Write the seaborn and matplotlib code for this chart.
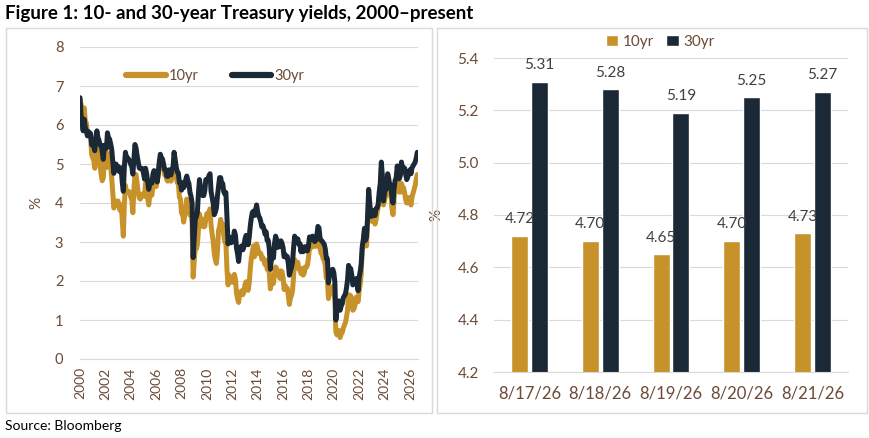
import numpy as np
import pandas as pd
import seaborn as sns
import matplotlib.pyplot as plt
from matplotlib.patches import Rectangle

# monthly 10yr yields, Jan 2000 - Aug 2026
ten_yr = [
    6.66, 6.52, 6.26, 5.99, 6.44, 6.10, 6.05, 5.83, 5.80, 5.74, 5.72, 5.24,
    5.16, 5.10, 4.89, 5.14, 5.39, 5.28, 5.24, 4.97, 4.73, 4.57, 4.65, 5.09,
    5.04, 4.91, 5.28, 5.21, 5.16, 4.93, 4.65, 4.26, 3.87, 3.94, 4.05, 4.03,
    4.05, 3.90, 3.81, 3.96, 3.57, 3.15, 3.98, 4.45, 4.27, 4.29, 4.30, 4.27,
    4.15, 4.08, 3.75, 4.35, 4.72, 4.73, 4.50, 4.28, 4.13, 4.10, 4.19, 4.23,
    4.22, 4.17, 4.50, 4.34, 4.14, 3.95, 4.18, 4.26, 4.20, 4.46, 4.54, 4.47,
    4.42, 4.57, 4.72, 4.99, 5.11, 5.15, 5.09, 4.88, 4.72, 4.73, 4.60, 4.56,
    4.76, 4.72, 4.56, 4.69, 4.75, 5.10, 5.00, 4.67, 4.52, 4.53, 4.15, 4.10,
    3.74, 3.74, 3.51, 3.68, 3.88, 4.10, 4.01, 3.89, 3.69, 3.81, 3.53, 2.10,
    2.52, 2.87, 2.82, 2.93, 3.29, 3.72, 3.56, 3.59, 3.40, 3.39, 3.40, 3.59,
    3.73, 3.69, 3.73, 3.85, 3.42, 3.20, 3.01, 2.70, 2.55, 2.45, 2.76, 3.29,
    3.39, 3.58, 3.41, 3.46, 3.17, 3.00, 3.00, 2.30, 1.90, 2.15, 2.01, 1.98,
    1.97, 1.97, 2.17, 2.05, 1.70, 1.55, 1.45, 1.68, 1.72, 1.75, 1.65, 1.72,
    1.91, 1.98, 1.96, 1.76, 1.93, 2.30, 2.58, 2.74, 2.90, 2.62, 2.72, 2.95,
    2.86, 2.71, 2.72, 2.71, 2.56, 2.60, 2.54, 2.42, 2.53, 2.30, 2.33, 2.21,
    1.80, 1.98, 2.04, 1.94, 2.20, 2.36, 2.32, 2.17, 2.17, 2.07, 2.26, 2.24,
    2.09, 1.78, 1.89, 1.81, 1.81, 1.64, 1.40, 1.56, 1.63, 1.76, 2.14, 2.55,
    2.43, 2.42, 2.48, 2.30, 2.30, 2.19, 2.32, 2.15, 2.20, 2.36, 2.35, 2.40,
    2.58, 2.86, 2.84, 2.87, 2.98, 2.91, 2.89, 2.89, 3.00, 3.15, 3.12, 2.83,
    2.71, 2.68, 2.57, 2.53, 2.40, 2.07, 2.06, 1.55, 1.70, 1.71, 1.81, 1.86,
    1.76, 1.50, 0.70, 0.62, 0.67, 0.73, 0.55, 0.65, 0.68, 0.79, 0.87, 0.93,
    1.08, 1.26, 1.65, 1.64, 1.62, 1.52, 1.25, 1.28, 1.37, 1.58, 1.56, 1.47,
    1.76, 1.93, 2.20, 2.85, 2.90, 3.25, 2.90, 2.90, 3.60, 4.10, 3.89, 3.62,
    3.53, 3.75, 3.66, 3.46, 3.57, 3.75, 3.90, 4.17, 4.45, 4.90, 4.50, 3.95,
    4.06, 4.21, 4.21, 4.60, 4.48, 4.31, 4.25, 3.87, 3.70, 4.10, 4.36, 4.45,
    4.70, 4.45, 4.28, 4.28, 4.50, 4.38, 4.39, 4.26, 4.08, 4.00, 4.09, 4.14,
    4.05, 3.95, 4.15, 4.25, 4.35, 4.45, 4.60, 4.73,
]

# monthly 30yr yields, Jan 2000 - Aug 2026
thirty_yr = [
    6.70, 6.23, 6.05, 5.85, 6.15, 5.93, 5.85, 5.72, 5.83, 5.80, 5.78, 5.49,
    5.54, 5.45, 5.34, 5.65, 5.85, 5.67, 5.61, 5.48, 5.48, 5.32, 5.12, 5.48,
    5.45, 5.40, 5.80, 5.67, 5.64, 5.52, 5.38, 5.08, 4.76, 4.93, 5.00, 4.92,
    4.94, 4.81, 4.80, 4.90, 4.53, 4.30, 4.93, 5.30, 5.14, 5.16, 5.12, 5.07,
    4.99, 4.93, 4.74, 5.14, 5.50, 5.41, 5.22, 5.06, 4.90, 4.88, 4.89, 4.88,
    4.77, 4.61, 4.89, 4.75, 4.56, 4.35, 4.48, 4.53, 4.51, 4.74, 4.83, 4.73,
    4.65, 4.54, 4.73, 5.06, 5.25, 5.15, 5.13, 5.00, 4.85, 4.85, 4.69, 4.68,
    4.85, 4.82, 4.72, 4.87, 4.90, 5.30, 5.11, 4.93, 4.79, 4.77, 4.52, 4.53,
    4.33, 4.52, 4.39, 4.44, 4.60, 4.69, 4.57, 4.50, 4.27, 4.17, 4.00, 2.60,
    3.13, 3.59, 3.64, 3.76, 4.23, 4.60, 4.41, 4.37, 4.19, 4.19, 4.31, 4.60,
    4.60, 4.62, 4.70, 4.75, 4.29, 4.13, 3.99, 3.70, 3.77, 3.87, 4.19, 4.42,
    4.65, 4.65, 4.51, 4.50, 4.29, 4.23, 4.27, 3.65, 2.95, 3.13, 3.02, 2.98,
    3.03, 3.11, 3.28, 3.18, 2.85, 2.70, 2.50, 2.77, 2.88, 2.90, 2.80, 2.88,
    3.08, 3.17, 3.16, 2.93, 3.11, 3.40, 3.61, 3.76, 3.79, 3.68, 3.80, 3.95,
    3.77, 3.66, 3.62, 3.52, 3.39, 3.42, 3.33, 3.20, 3.26, 3.04, 3.04, 2.83,
    2.30, 2.57, 2.63, 2.59, 2.96, 3.15, 3.07, 2.86, 2.95, 2.89, 3.03, 2.97,
    2.86, 2.62, 2.68, 2.62, 2.63, 2.45, 2.15, 2.26, 2.35, 2.50, 2.86, 3.15,
    3.02, 3.03, 3.08, 2.94, 2.96, 2.75, 2.88, 2.75, 2.78, 2.88, 2.80, 2.77,
    2.88, 3.13, 3.09, 3.07, 3.15, 3.05, 3.01, 3.04, 3.15, 3.40, 3.36, 3.10,
    3.04, 3.02, 2.98, 2.94, 2.82, 2.57, 2.57, 1.95, 2.16, 2.19, 2.28, 2.30,
    2.22, 1.97, 1.00, 1.27, 1.38, 1.49, 1.25, 1.36, 1.42, 1.57, 1.62, 1.67,
    1.82, 2.04, 2.40, 2.30, 2.32, 2.16, 1.90, 1.92, 1.94, 2.06, 1.94, 1.75,
    2.10, 2.25, 2.45, 2.90, 3.07, 3.35, 3.04, 3.13, 3.65, 4.35, 4.00, 3.66,
    3.66, 3.80, 3.77, 3.68, 3.86, 3.87, 3.96, 4.28, 4.50, 5.05, 4.66, 4.05,
    4.26, 4.38, 4.36, 4.75, 4.62, 4.44, 4.46, 4.15, 4.00, 4.38, 4.58, 4.65,
    4.95, 4.68, 4.62, 4.71, 5.05, 4.89, 4.91, 4.89, 4.73, 4.60, 4.67, 4.80,
    4.85, 4.75, 4.90, 4.95, 5.00, 5.05, 5.15, 5.30,
]

year_ticks = ['2000', '2002', '2004', '2006', '2008', '2010', '2012', '2014',
              '2016', '2018', '2020', '2022', '2024', '2026']
bar_dates = ['8/17/26', '8/18/26', '8/19/26', '8/20/26', '8/21/26']
bar_ten = [4.72, 4.70, 4.65, 4.70, 4.73]
bar_thirty = [5.31, 5.28, 5.19, 5.25, 5.27]

gold = '#C8922A'
navy = '#1B2836'
tick_col = '#6B4A36'
grid_col = '#D9D9D9'

sns.set_style('white')
plt.rcParams['font.family'] = ['Lato', 'DejaVu Sans']

dates = pd.date_range('2000-01-01', periods=len(ten_yr), freq='MS')
lines = pd.DataFrame({
    'date': np.concatenate([dates, dates]),
    'yield': ten_yr + thirty_yr,
    'series': ['10yr'] * len(ten_yr) + ['30yr'] * len(thirty_yr),
})
bars = pd.DataFrame({
    'date': bar_dates * 2,
    'yield': bar_ten + bar_thirty,
    'series': ['10yr'] * len(bar_ten) + ['30yr'] * len(bar_thirty),
})

fig = plt.figure(figsize=(8.69, 4.38), dpi=100)

# panel frames
fig.patches.append(Rectangle((6 / 869, 1 - 413 / 438), 426 / 869, 385 / 438,
                             transform=fig.transFigure, fill=False,
                             edgecolor=grid_col, lw=1))
fig.patches.append(Rectangle((437 / 869, 1 - 413 / 438), 430 / 869, 385 / 438,
                             transform=fig.transFigure, fill=False,
                             edgecolor=grid_col, lw=1))

fig.text(5 / 869, 1 - 14 / 438, 'Figure 1: 10- and 30-year Treasury yields, 2000\u2013present',
         fontsize=13.5, fontweight='bold', va='center', ha='left', color='black')
fig.text(5 / 869, 1 - 426 / 438, 'Source: Bloomberg', fontsize=10,
         va='center', ha='left', color='black')

# left: time series
ax1 = fig.add_axes([80 / 869, 1 - 359 / 438, 338 / 869, 312 / 438])
sns.lineplot(data=lines, x='date', y='yield', hue='series',
             palette={'10yr': gold, '30yr': navy}, lw=3.6, ax=ax1)
ax1.set_ylim(0, 8)
ax1.set_yticks(range(0, 9))
ax1.set_xlim(dates[0], dates[-1] + pd.Timedelta(days=20))
ax1.grid(axis='y', color=grid_col, lw=0.8)
ax1.set_axisbelow(True)
for s in ['top', 'right', 'left']:
    ax1.spines[s].set_visible(False)
ax1.spines['bottom'].set_color(grid_col)
ax1.tick_params(axis='y', labelsize=10.5, colors=tick_col, length=0, pad=12)
ax1.set_xlabel('')
ax1.set_ylabel('%', fontsize=11, color=tick_col, labelpad=8)
leg = ax1.legend(loc='upper center', bbox_to_anchor=(0.4, 0.97), ncol=2,
                 frameon=False, fontsize=10.5, handlelength=2.7,
                 handletextpad=0.2, columnspacing=2.3)
for h in leg.get_lines():
    h.set_linewidth(4.5)
for t in leg.get_texts():
    t.set_color(tick_col)

# right: last five days
ax2 = fig.add_axes([494 / 869, 1 - 372 / 438, 354 / 869, 314 / 438])
sns.barplot(data=bars, x='date', y='yield', hue='series',
            palette={'10yr': gold, '30yr': navy}, width=0.56, gap=0.15,
            saturation=1, ax=ax2)
ax2.set_ylim(4.2, 5.4)
ax2.set_yticks(np.arange(4.2, 5.41, 0.2))
ax2.yaxis.set_major_formatter(plt.FormatStrFormatter('%.1f'))
ax2.grid(axis='y', color=grid_col, lw=0.8)
ax2.set_axisbelow(True)
for s in ['top', 'right', 'left']:
    ax2.spines[s].set_visible(False)
ax2.spines['bottom'].set_color(grid_col)
ax2.set_xticks(np.arange(-0.5, len(bar_dates), 1), minor=True)
ax2.tick_params(axis='x', which='major', length=0, labelsize=12,
                colors=tick_col, pad=10)
ax2.tick_params(axis='x', which='minor', length=5, color=grid_col)
ax2.tick_params(axis='y', labelsize=11, colors=tick_col, length=0, pad=11)
ax2.set_xlabel('')
ax2.set_ylabel('%', fontsize=11, color=tick_col, labelpad=10)
for c in ax2.containers:
    ax2.bar_label(c, fmt='%.2f', padding=7, fontsize=11, color='#404040')
leg2 = ax2.legend(loc='lower center', bbox_to_anchor=(0.47, 1.0), ncol=2,
                  frameon=False, fontsize=11, handlelength=0.8,
                  handleheight=0.8, handletextpad=0.3, columnspacing=0.8,
                  borderaxespad=0.2)
for t in leg2.get_texts():
    t.set_color(tick_col)

# year ticks on the left panel, rotated as in the original
ax1.set_xticks(pd.to_datetime(year_ticks))
ax1.set_xticklabels(year_ticks)
ax1.tick_params(axis='x', labelsize=10, labelcolor=tick_col, length=4,
                color=grid_col, pad=2, labelrotation=90)

fig.savefig('out.png', dpi=100)
